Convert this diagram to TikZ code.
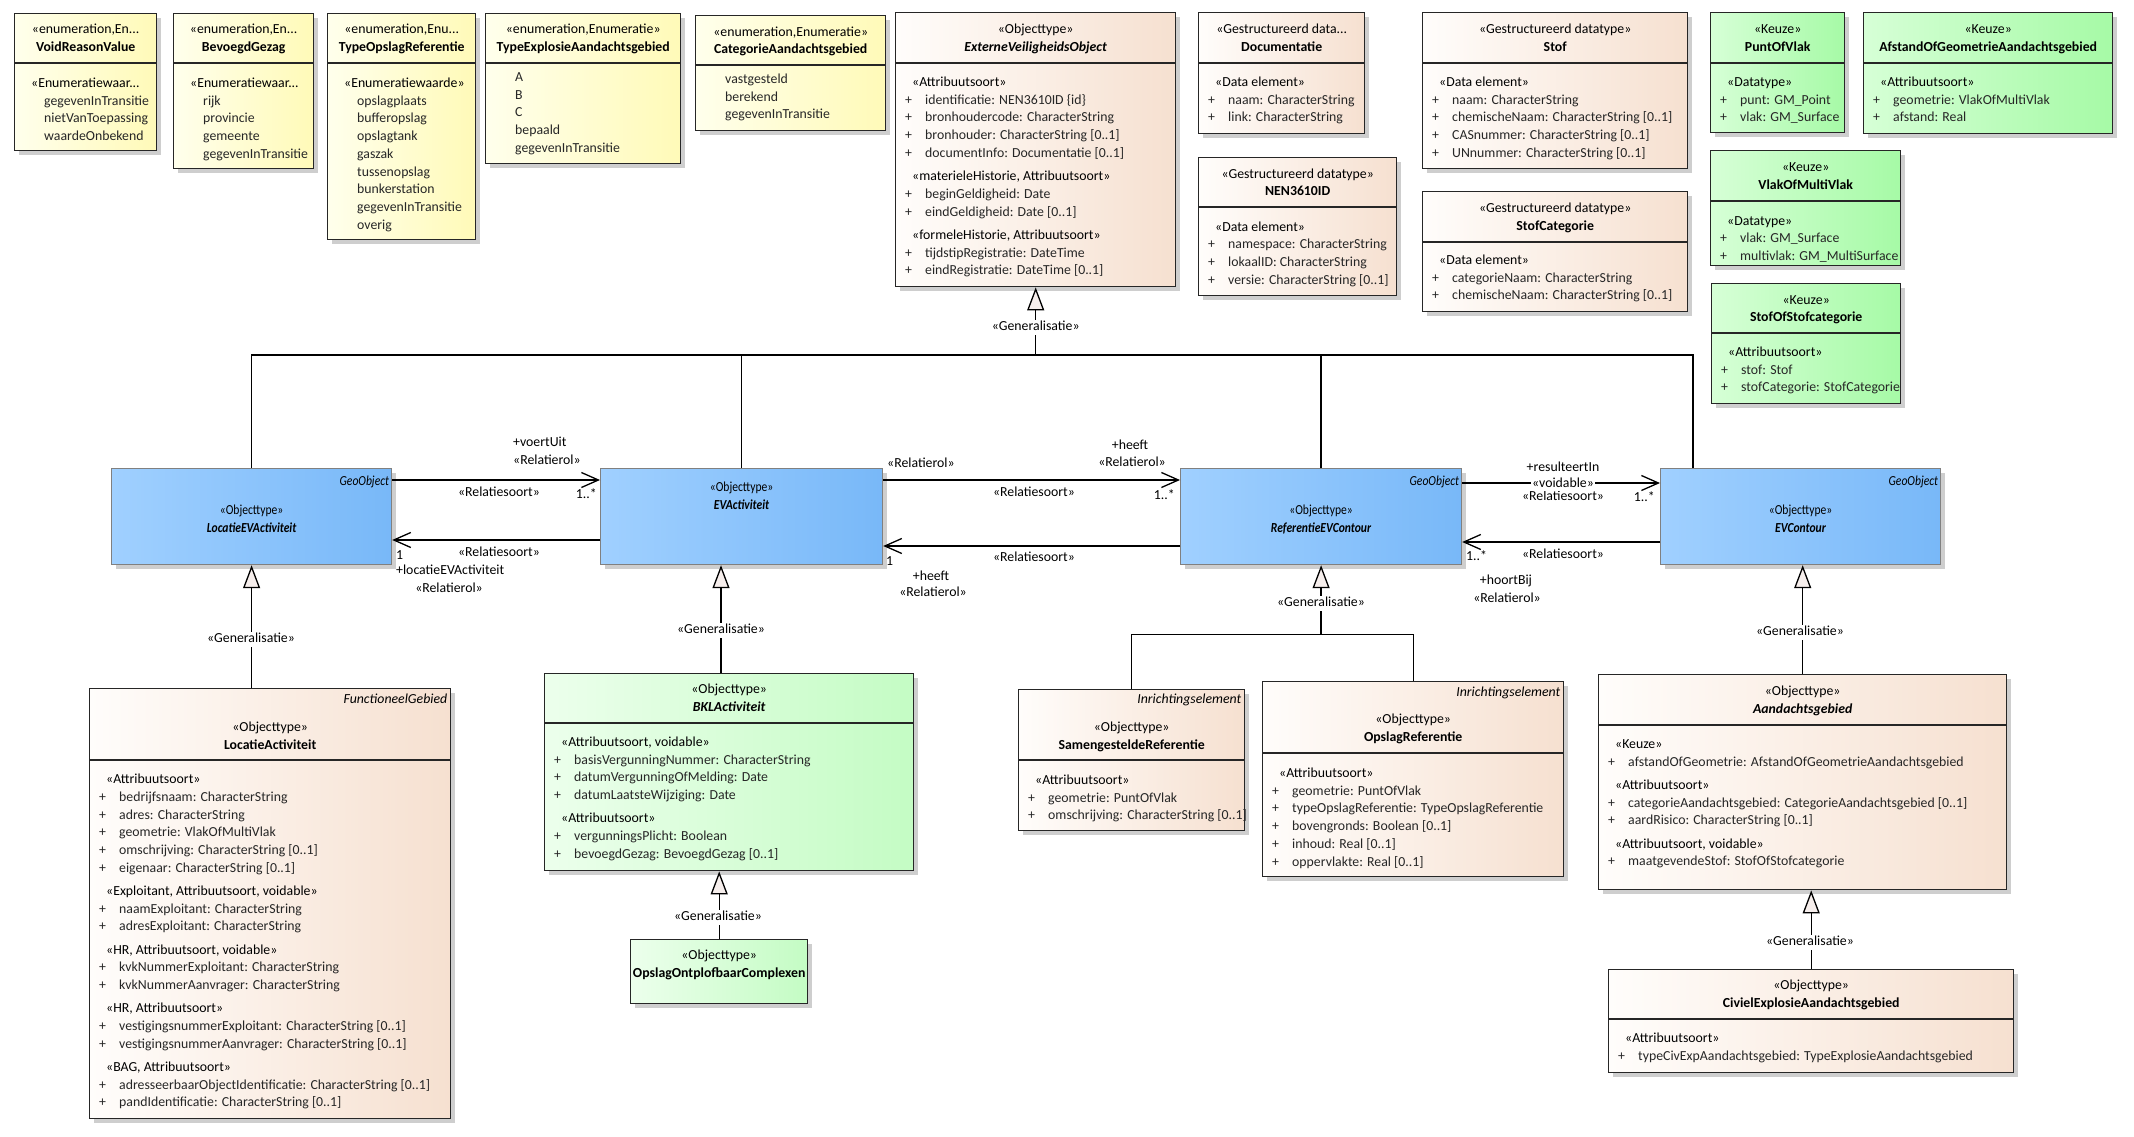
\documentclass[tikz,border=0pt]{standalone}
\usepackage{fontspec}
\setmainfont{Carlito}
\newfontfamily\condfont[FakeStretch=0.84]{Carlito}
\usetikzlibrary{arrows.meta,calc,shadows}

\definecolor{ylL}{RGB}{255,255,236}
\definecolor{ylR}{RGB}{255,250,184}
\definecolor{bgL}{RGB}{255,253,251}
\definecolor{bgR}{RGB}{246,224,208}
\definecolor{gnL}{RGB}{214,255,214}
\definecolor{gnR}{RGB}{166,250,166}
\definecolor{lgL}{RGB}{236,255,236}
\definecolor{lgR}{RGB}{196,252,196}
\definecolor{blL}{RGB}{160,208,255}
\definecolor{blR}{RGB}{120,184,248}
\definecolor{genf}{RGB}{246,238,236}

\newcommand\tf{\fontsize{13.8}{17.7}\selectfont}
\newcommand\attP[1]{\strut\makebox[20pt][l]{+}#1}
\newcommand\attS[1]{\strut\hspace*{7pt}\textcolor{black}{#1}}
\newcommand\attV[1]{\strut\hspace*{20pt}#1}

\tikzset{
 shd/.style={drop shadow={shadow xshift=4pt, shadow yshift=-4pt, fill=black!35, opacity=0.55}},
 box/.style={draw=black!85, line width=1.4pt, shd},
 ybox/.style={box, left color=ylL, right color=ylR},
 ebox/.style={box, left color=bgL, right color=bgR},
 gbox/.style={box, left color=gnL, right color=gnR},
 lbox/.style={box, left color=lgL, right color=lgR},
 bbox/.style={draw=black!50, line width=1.2pt, left color=blL, right color=blR, shd},
 hdr/.style={inner sep=0pt, align=center, font=\tf},
 bhdr/.style={inner sep=0pt, align=center, font={\condfont\fontsize{13.8}{18.5}\selectfont}},
 atr/.style={inner sep=0pt, align=left, font=\tf, text=black!85},
 tg/.style={inner sep=0pt, font={\tf\itshape}, text height=9.5pt, text depth=2.5pt},
 btg/.style={inner sep=0pt, font={\condfont\fontsize{13.8}{17}\selectfont\itshape}, text height=9.5pt, text depth=2.5pt},
 lbl/.style={inner sep=0pt, font=\tf, text height=9.5pt, text depth=2.5pt},
 glbl/.style={lbl, fill=white, inner sep=1.5pt},
 conn/.style={draw=black, line width=1.3pt},
 gen/.style={conn, -{Triangle[length=23pt,width=17pt,fill=genf]}},
 assoc/.style={conn, -{Straight Barb[length=17pt,width=15pt]}},
}

\newcommand\klass[6]{\node[#2, minimum width=#5pt, minimum height=#6pt, anchor=north west, inner sep=0pt] (#1) at (#3,#4) {};}
\newcommand\hdrs[4]{\node[hdr, anchor=north] (#1-h) at ($(#1.north)+(0,#2)$) {\strut#3\\\strut#4};}
\newcommand\divl[2]{\draw[line width=1.4pt, draw=black!85] ($(#1.north west)+(0,#2)$) -- ($(#1.north east)+(0,#2)$);}
\newcommand\attrs[3]{\node[atr, anchor=north west] (#1-a) at ($(#1.north west)+(10,#2)$) {#3};}
\newcommand\tagr[3]{\node[tg, anchor=east] (#1-t) at ($(#1.north east)+(-4,#2)$) {#3};}

\begin{document}
\begin{tikzpicture}[x=1pt,y=-1pt]
\fill[white] (0,0) rectangle (2134,1137);
\useasboundingbox (0,0) rectangle (2134,1137);

% ---------- enumerations ----------
\klass{void}{ybox}{14}{13}{142}{137}
\hdrs{void}{8}{«enumeration,En...}{\textbf{VoidReasonValue}}
\divl{void}{50}
\attrs{void}{62}{\attS{«Enumeratiewaar...}\\\attV{gegevenInTransitie}\\\attV{nietVanToepassing}\\\attV{waardeOnbekend}}

\klass{bev}{ybox}{173}{13}{140}{155}
\hdrs{bev}{8}{«enumeration,En...}{\textbf{BevoegdGezag}}
\divl{bev}{50}
\attrs{bev}{62}{\attS{«Enumeratiewaar...}\\\attV{rijk}\\\attV{provincie}\\\attV{gemeente}\\\attV{gegevenInTransitie}}

\klass{tor}{ybox}{327}{13}{148}{226}
\hdrs{tor}{8}{«enumeration,Enu...}{\textbf{TypeOpslagReferentie}}
\divl{tor}{50}
\attrs{tor}{62}{\attS{«Enumeratiewaarde»}\\\attV{opslagplaats}\\\attV{bufferopslag}\\\attV{opslagtank}\\\attV{gaszak}\\\attV{tussenopslag}\\\attV{bunkerstation}\\\attV{gegevenInTransitie}\\\attV{overig}}

\klass{tea}{ybox}{485}{13}{195}{150}
\hdrs{tea}{8}{«enumeration,Enumeratie»}{\textbf{TypeExplosieAandachtsgebied}}
\divl{tea}{50}
\attrs{tea}{56}{\attV{A}\\\attV{B}\\\attV{C}\\\attV{bepaald}\\\attV{gegevenInTransitie}}

\klass{cat}{ybox}{695}{15}{190}{115}
\hdrs{cat}{8.5}{«enumeration,Enumeratie»}{\textbf{CategorieAandachtsgebied}}
\divl{cat}{50}
\attrs{cat}{56}{\attV{vastgesteld}\\\attV{berekend}\\\attV{gegevenInTransitie}}

% ---------- ExterneVeiligheidsObject ----------
\klass{evo}{ebox}{895}{12}{280}{274}
\hdrs{evo}{9}{«Objecttype»}{\textbf{\textit{ExterneVeiligheidsObject}}}
\divl{evo}{51}
\attrs{evo}{62}{\attS{«Attribuutsoort»}\\\attP{identificatie: NEN3610ID \{id\}}\\\attP{bronhoudercode: CharacterString}\\\attP{bronhouder: CharacterString [0..1]}\\\attP{documentInfo: Documentatie [0..1]}\\[5.6pt]\attS{«materieleHistorie, Attribuutsoort»}\\\attP{beginGeldigheid: Date}\\\attP{eindGeldigheid: Date [0..1]}\\[5.6pt]\attS{«formeleHistorie, Attribuutsoort»}\\\attP{tijdstipRegistratie: DateTime}\\\attP{eindRegistratie: DateTime [0..1]}}

% ---------- datatypes ----------
\klass{doc}{ebox}{1198}{12}{166}{121}
\hdrs{doc}{9}{«Gestructureerd data...}{\textbf{Documentatie}}
\divl{doc}{51}
\attrs{doc}{62}{\attS{«Data element»}\\\attP{naam: CharacterString}\\\attP{link: CharacterString}}

\klass{nen}{ebox}{1198}{157}{198}{138}
\hdrs{nen}{8.5}{«Gestructureerd datatype»}{\textbf{NEN3610ID}}
\divl{nen}{50}
\attrs{nen}{61.5}{\attS{«Data element»}\\\attP{namespace: CharacterString}\\\attP{lokaalID: CharacterString}\\\attP{versie: CharacterString [0..1]}}

\klass{stof}{ebox}{1422}{12}{265}{156}
\hdrs{stof}{9}{«Gestructureerd datatype»}{\textbf{Stof}}
\divl{stof}{51}
\attrs{stof}{62}{\attS{«Data element»}\\\attP{naam: CharacterString}\\\attP{chemischeNaam: CharacterString [0..1]}\\\attP{CASnummer: CharacterString [0..1]}\\\attP{UNnummer: CharacterString [0..1]}}

\klass{stofcat}{ebox}{1422}{191}{265}{120}
\hdrs{stofcat}{9}{«Gestructureerd datatype»}{\textbf{StofCategorie}}
\divl{stofcat}{51}
\attrs{stofcat}{61}{\attS{«Data element»}\\\attP{categorieNaam: CharacterString}\\\attP{chemischeNaam: CharacterString [0..1]}}

% ---------- keuze ----------
\klass{punt}{gbox}{1710}{12}{134}{120}
\hdrs{punt}{9}{«Keuze»}{\textbf{PuntOfVlak}}
\divl{punt}{51}
\attrs{punt}{62}{\attS{«Datatype»}\\\attP{punt: GM\_Point}\\\attP{vlak: GM\_Surface}}

\klass{afst}{gbox}{1863}{12}{249}{121}
\hdrs{afst}{9}{«Keuze»}{\textbf{AfstandOfGeometrieAandachtsgebied}}
\divl{afst}{51}
\attrs{afst}{62}{\attS{«Attribuutsoort»}\\\attP{geometrie: VlakOfMultiVlak}\\\attP{afstand: Real}}

\klass{vlak}{gbox}{1710}{150}{190}{115}
\hdrs{vlak}{9}{«Keuze»}{\textbf{VlakOfMultiVlak}}
\divl{vlak}{51}
\attrs{vlak}{62.5}{\attS{«Datatype»}\\\attP{vlak: GM\_Surface}\\\attP{multivlak: GM\_MultiSurface}}

\klass{stofof}{gbox}{1711}{283}{189}{120}
\hdrs{stofof}{8.5}{«Keuze»}{\textbf{StofOfStofcategorie}}
\divl{stofof}{50}
\attrs{stofof}{61}{\attS{«Attribuutsoort»}\\\attP{stof: Stof}\\\attP{stofCategorie: StofCategorie}}

% ---------- blue object types ----------
\klass{locev}{bbox}{111}{468}{280}{96}
\node[btg, anchor=east] (locev-t) at ($(locev.north east)+(-3,14)$) {GeoObject};
\node[bhdr, anchor=north] (locev-h) at ($(locev.north)+(0,33)$) {\strut«Objecttype»\\\strut\textbf{\textit{LocatieEVActiviteit}}};

\klass{evact}{bbox}{600}{468}{282}{96}
\node[bhdr, anchor=north] (evact-h) at ($(evact.north)+(0,10)$) {\strut«Objecttype»\\\strut\textbf{\textit{EVActiviteit}}};

\klass{refev}{bbox}{1180}{468}{281}{96}
\node[btg, anchor=east] (refev-t) at ($(refev.north east)+(-3,14)$) {GeoObject};
\node[bhdr, anchor=north] (refev-h) at ($(refev.north)+(0,33)$) {\strut«Objecttype»\\\strut\textbf{\textit{ReferentieEVContour}}};

\klass{evc}{bbox}{1660}{468}{280}{96}
\node[btg, anchor=east] (evc-t) at ($(evc.north east)+(-3,14)$) {GeoObject};
\node[bhdr, anchor=north] (evc-h) at ($(evc.north)+(0,33)$) {\strut«Objecttype»\\\strut\textbf{\textit{EVContour}}};

% ---------- lower classes ----------
\klass{locact}{ebox}{89}{688}{361}{430}
\tagr{locact}{12}{FunctioneelGebied}
\hdrs{locact}{31}{«Objecttype»}{\textbf{LocatieActiviteit}}
\divl{locact}{72}
\attrs{locact}{83}{\attS{«Attribuutsoort»}\\\attP{bedrijfsnaam: CharacterString}\\\attP{adres: CharacterString}\\\attP{geometrie: VlakOfMultiVlak}\\\attP{omschrijving: CharacterString [0..1]}\\\attP{eigenaar: CharacterString [0..1]}\\[5.6pt]\attS{«Exploitant, Attribuutsoort, voidable»}\\\attP{naamExploitant: CharacterString}\\\attP{adresExploitant: CharacterString}\\[5.6pt]\attS{«HR, Attribuutsoort, voidable»}\\\attP{kvkNummerExploitant: CharacterString}\\\attP{kvkNummerAanvrager: CharacterString}\\[5.6pt]\attS{«HR, Attribuutsoort»}\\\attP{vestigingsnummerExploitant: CharacterString [0..1]}\\\attP{vestigingsnummerAanvrager: CharacterString [0..1]}\\[5.6pt]\attS{«BAG, Attribuutsoort»}\\\attP{adresseerbaarObjectIdentificatie: CharacterString [0..1]}\\\attP{pandIdentificatie: CharacterString [0..1]}}

\klass{bkl}{lbox}{544}{673}{369}{197}
\hdrs{bkl}{8}{«Objecttype»}{\textbf{\textit{BKLActiviteit}}}
\divl{bkl}{50}
\attrs{bkl}{61}{\attS{«Attribuutsoort, voidable»}\\\attP{basisVergunningNummer: CharacterString}\\\attP{datumVergunningOfMelding: Date}\\\attP{datumLaatsteWijziging: Date}\\[5.6pt]\attS{«Attribuutsoort»}\\\attP{vergunningsPlicht: Boolean}\\\attP{bevoegdGezag: BevoegdGezag [0..1]}}

\klass{ooc}{lbox}{630}{939}{177}{64}
\hdrs{ooc}{8}{«Objecttype»}{\textbf{OpslagOntplofbaarComplexen}}

\klass{samen}{ebox}{1018}{689}{226}{141}
\tagr{samen}{11}{Inrichtingselement}
\hdrs{samen}{30}{«Objecttype»}{\textbf{SamengesteldeReferentie}}
\divl{samen}{71}
\attrs{samen}{83}{\attS{«Attribuutsoort»}\\\attP{geometrie: PuntOfVlak}\\\attP{omschrijving: CharacterString [0..1]}}

\klass{oref}{ebox}{1262}{681}{301}{195}
\tagr{oref}{12}{Inrichtingselement}
\hdrs{oref}{30}{«Objecttype»}{\textbf{OpslagReferentie}}
\divl{oref}{72}
\attrs{oref}{84}{\attS{«Attribuutsoort»}\\\attP{geometrie: PuntOfVlak}\\\attP{typeOpslagReferentie: TypeOpslagReferentie}\\\attP{bovengronds: Boolean [0..1]}\\\attP{inhoud: Real [0..1]}\\\attP{oppervlakte: Real [0..1]}}

\klass{aand}{ebox}{1598}{674}{408}{215}
\hdrs{aand}{9}{«Objecttype»}{\textbf{\textit{Aandachtsgebied}}}
\divl{aand}{51}
\attrs{aand}{62}{\attS{«Keuze»}\\\attP{afstandOfGeometrie: AfstandOfGeometrieAandachtsgebied}\\[5.6pt]\attS{«Attribuutsoort»}\\\attP{categorieAandachtsgebied: CategorieAandachtsgebied [0..1]}\\\attP{aardRisico: CharacterString [0..1]}\\[5.6pt]\attS{«Attribuutsoort, voidable»}\\\attP{maatgevendeStof: StofOfStofcategorie}}

\klass{civ}{ebox}{1608}{969}{405}{103}
\hdrs{civ}{8}{«Objecttype»}{\textbf{CivielExplosieAandachtsgebied}}
\divl{civ}{50}
\attrs{civ}{61}{\attS{«Attribuutsoort»}\\\attP{typeCivExpAandachtsgebied: TypeExplosieAandachtsgebied}}

% ---------- generalisation tree from ExterneVeiligheidsObject ----------
\coordinate (gj) at ($(locev.north)+(0,-113)$);
\coordinate (evct) at ($(evc.north west)+(33,0)$);
\draw[conn] (locev.north) -- (gj) -| (evct);
\draw[conn] (evact.north) -- (evact.north |- gj);
\draw[conn] (refev.north) -- (refev.north |- gj);
\draw[gen] (evo.south |- gj) -- (evo.south);
\node[glbl] (g1) at ($(evo.south)+(0,40)$) {«Generalisatie»};

% ---------- lower generalisations ----------
\coordinate (lat) at (locev.south |- locact.north);
\draw[gen] (lat) -- (locev.south);
\node[glbl] (g2) at (251,639) {«Generalisatie»};

\coordinate (bklt) at ($(bkl.north west)+(177,0)$);
\draw[gen] (bklt) -- (bklt |- evact.south);
\node[glbl] (g3) at (721,630) {«Generalisatie»};

\draw[gen] (ooc.north) -- (ooc.north |- bkl.south);
\node[glbl] (g4) at (718,917) {«Generalisatie»};

\coordinate (rj) at ($(refev.south)+(0,69)$);
\draw[conn] (samen.north) |- (oref.north |- rj) -- (oref.north);
\draw[gen] (rj) -- (refev.south);
\node[glbl] (g5) at (1321,603) {«Generalisatie»};

\draw[gen] (aand.north) -- (aand.north |- evc.south);
\node[glbl] (g6) at (1800,632) {«Generalisatie»};

\draw[gen] (civ.north) -- (civ.north |- aand.south);
\node[glbl] (g7) at (1810,942) {«Generalisatie»};

% ---------- associations ----------
\draw[assoc] ($(locev.north east)+(0,12)$) -- ($(evact.north west)+(0,12)$);
\node[lbl, anchor=west] (a1) at (513,443) {+voertUit};
\node[lbl, anchor=west] (a2) at (513,461) {«Relatierol»};
\node[lbl] (a3) at (499,493) {«Relatiesoort»};
\node[lbl, anchor=east] (a4) at (597,495) {1..*};

\draw[assoc] ($(evact.north west)+(0,72)$) -- ($(locev.north east)+(0,72)$);
\node[lbl] (b1) at (499,553) {«Relatiesoort»};
\node[lbl, anchor=west] (b2) at (396,556) {1};
\node[lbl, anchor=west] (b3) at (396,571) {+locatieEVActiviteit};
\node[lbl] (b4) at (449,589) {«Relatierol»};

\draw[assoc] ($(evact.north east)+(0,12)$) -- ($(refev.north west)+(0,12)$);
\node[lbl, anchor=west] (c1) at (887,464) {«Relatierol»};
\node[lbl] (c2) at (1130,446) {+heeft};
\node[lbl] (c3) at (1132,463) {«Relatierol»};
\node[lbl] (c4) at (1034,493) {«Relatiesoort»};
\node[lbl, anchor=east] (c5) at (1175,496) {1..*};

\draw[assoc] ($(refev.north west)+(0,78)$) -- ($(evact.north east)+(0,78)$);
\node[lbl] (d1) at (1034,558) {«Relatiesoort»};
\node[lbl, anchor=west] (d2) at (886,562) {1};
\node[lbl] (d3) at (931,577) {+heeft};
\node[lbl] (d4) at (933,593) {«Relatierol»};

\draw[assoc] ($(refev.north east)+(0,15)$) -- ($(evc.north west)+(0,15)$);
\node[lbl] (e1) at (1563,468) {+resulteertIn};
\node[lbl] (e3) at (1563,497) {«Relatiesoort»};
\node[lbl, fill=white, inner sep=1pt] (e2) at (1563,484) {«voidable»};
\node[lbl, anchor=east] (e4) at (1655,498) {1..*};

\draw[assoc] ($(evc.north west)+(0,74)$) -- ($(refev.north east)+(0,74)$);
\node[lbl, anchor=west] (f1) at (1466,557) {1..*};
\node[lbl] (f2) at (1563,555) {«Relatiesoort»};
\node[lbl] (f3) at (1506,581) {+hoortBij};
\node[lbl] (f4) at (1507,599) {«Relatierol»};
\end{tikzpicture}
\end{document}
